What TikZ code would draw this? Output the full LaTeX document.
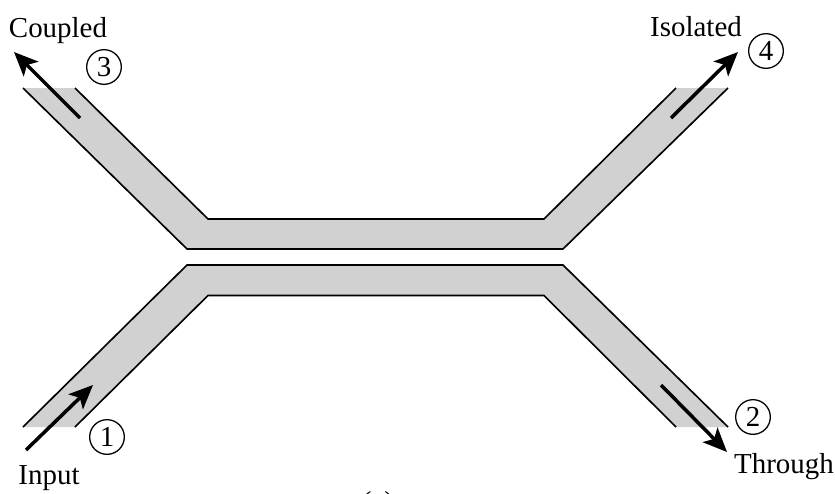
\documentclass[tikz,border=0pt]{standalone}
\usepackage{fontspec}
\setmainfont{Liberation Serif}
\usepackage{xcolor}
\usepackage{tikz}
\usetikzlibrary{arrows.meta,positioning}
\definecolor{guidegray}{RGB}{209,209,209}
\newcommand{\labelfont}{\fontsize{24.7}{28}\selectfont}

\begin{document}
\begin{tikzpicture}[
  x=0.03cm,y=-0.03cm,
  guide/.style={fill=guidegray,draw=none},
  edgeline/.style={line width=1.4pt,line join=miter},
  arrow/.style={-{Stealth[length=0.72cm,width=0.62cm,inset=0.17cm]},line width=3pt},
  portnum/.style={draw,circle,line width=1.1pt,minimum size=1.04cm,inner sep=0pt,font=\labelfont},
  portname/.style={inner sep=0pt,font=\labelfont,anchor=base}
]
\useasboundingbox (0,0) rectangle (835,493);
% coupled pair
\fill[guide] (23,88) -- (187,249) -- (563,249) -- (728,88) -- (676,88) -- (544,219) -- (208,219) -- (75,88) -- cycle;
\fill[guide] (23,427) -- (187,265) -- (563,265) -- (728,427) -- (676,427) -- (544,295.5) -- (208,295.5) -- (75,427) -- cycle;
\draw[edgeline] (23,88) -- (187,249) -- (563,249) -- (728,88);
\draw[edgeline] (75,88) -- (208,219) -- (544,219) -- (676,88);
\draw[edgeline] (23,427) -- (187,265) -- (563,265) -- (728,427);
\draw[edgeline] (75,427) -- (208,295.5) -- (544,295.5) -- (676,427);
% ports
\node[portnum] (port1) at (107,437) {1};
\node[portnum] (port2) at (753,417) {2};
\node[portnum] (port3) at (104,67) {3};
\node[portnum] (port4) at (766,51) {4};
\node[portname] (input) at (49,484) {Input};
\node[portname] (through) at (784,473) {Through};
\node[portname] (coupled) at (58,37) {Coupled};
\node[portname] (isolated) at (696,36) {Isolated};
\node[portname] (caption) at (378,511) {(a)};
% signal arrows
\coordinate (input-start) at (26,450);
\coordinate (input-end) at (93,385);
\coordinate (through-start) at (661,385);
\coordinate (through-end) at (727,452);
\coordinate (coupled-start) at (80,118);
\coordinate (coupled-end) at (14,52);
\coordinate (isolated-start) at (671,118);
\coordinate (isolated-end) at (738,52);
\draw[arrow] (input-start) -- (input-end);
\draw[arrow] (through-start) -- (through-end);
\draw[arrow] (coupled-start) -- (coupled-end);
\draw[arrow] (isolated-start) -- (isolated-end);
\end{tikzpicture}
\end{document}
